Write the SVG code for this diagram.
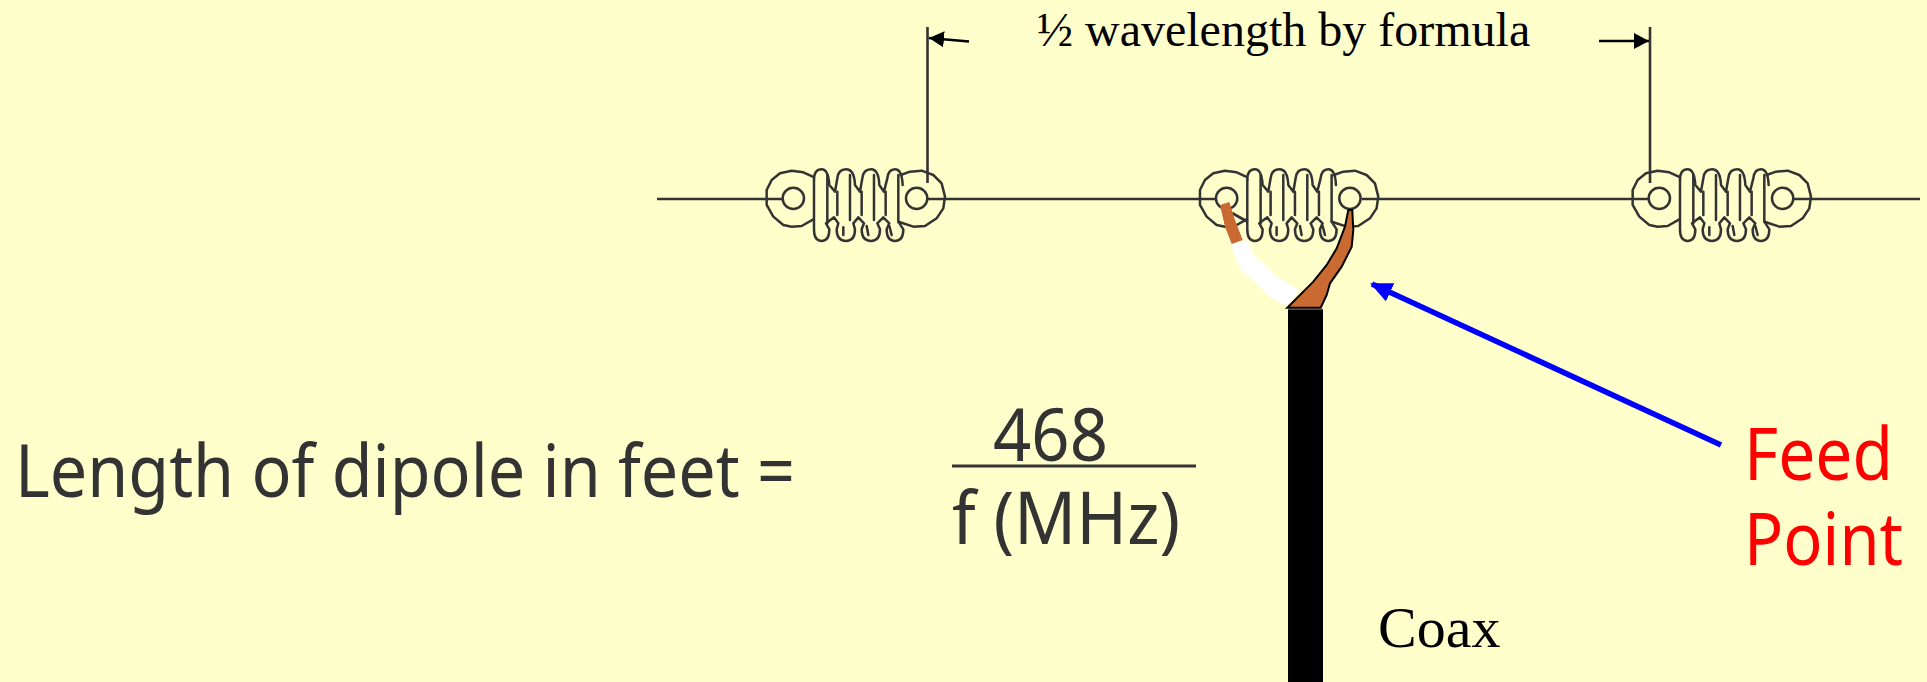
<svg xmlns="http://www.w3.org/2000/svg" xmlns:xlink="http://www.w3.org/1999/xlink" width="1927" height="682" viewBox="0 0 1927 682">
<style>
.ln{fill:none;stroke:#333;stroke-width:2.6}
.ins{fill:none;stroke:#333;stroke-width:7.5;stroke-linejoin:round;stroke-linecap:round}
.sans{font-family:"Noto Sans","DejaVu Sans",sans-serif;font-size:73px;fill:#333}
.red{font-family:"Noto Sans","DejaVu Sans",sans-serif;font-size:73px;fill:#f00}
.serif{font-family:"Liberation Serif",serif;fill:#000}
</style>
<defs>
<g id="insulator" class="ins">
<circle cx="160" cy="175" r="32"/>
<circle cx="530" cy="175" r="32"/>
<path d="M218,110L190,97L155,92L120,100L95,120L80,150L80,195L100,230L130,255L155,260L185,258L220,238"/>
<path d="M482,105L510,95L545,92L580,105L605,130L615,170L610,205L590,235L555,258L520,260L478,246"/>
<path d="M222,120Q222,88 245,88Q265,88 268,135L285,155L292,115Q295,88 318,88Q343,88 345,135L360,155L367,115Q370,88 393,88Q416,88 418,135L432,155L442,115Q445,88 465,88Q486,88 488,135"/>
<path d="M222,120V268Q222,303 245,303Q268,303 268,268L258,250L282,232L295,250L290,268Q290,303 318,303Q345,303 345,268L340,250L355,232L372,250L365,268Q365,303 393,303Q420,303 420,268L412,250L430,232L448,250L440,268Q440,303 465,303Q490,303 490,268L475,245"/>
<path d="M262,105V250M292,155V225M330,105V240M365,155V225M402,105V240M437,155V225M475,105V245"/>
<path d="M310,285V262M385,285L380,258M455,285L448,258"/>
</g>
<marker id="blueHead" markerUnits="userSpaceOnUse" markerWidth="24" markerHeight="20" refX="20" refY="10" orient="auto"><path d="M0,0L22,10L0,20Z" fill="#00f"/></marker>
<marker id="dimHead" markerUnits="userSpaceOnUse" markerWidth="16" markerHeight="16" refX="15" refY="8" orient="auto"><path d="M0,0L15,8L0,16Z" fill="#000"/></marker>
</defs>
<rect width="1927" height="682" fill="#ffc"/>
<g id="connectors">
<path class="ln" d="M657,199H782M928,199H1216M1362,199H1648M1793,199H1920"/>
<path class="ln" d="M927.5,27V183M1650,27V183"/>
<path d="M969,41.5L929,38" fill="none" stroke="#000" stroke-width="2.6" marker-end="url(#dimHead)"/>
<path d="M1599,41H1649" fill="none" stroke="#000" stroke-width="2.6" marker-end="url(#dimHead)"/>
<path d="M1721,445L1372,284" fill="none" stroke="#00f" stroke-width="5.5" marker-end="url(#blueHead)"/>
</g>
<g id="insulator-left"><use xlink:href="#insulator" href="#insulator" transform="translate(740,140) scale(0.3333)"/></g>
<g id="insulator-center"><use xlink:href="#insulator" href="#insulator" transform="translate(1173.3,140) scale(0.3333)"/></g>
<g id="insulator-right"><use xlink:href="#insulator" href="#insulator" transform="translate(1606,140) scale(0.3333)"/></g>
<g id="coax">
<path d="M1232,213L1248,222" fill="none" stroke="#333" stroke-width="2.6"/>
<rect x="1288" y="309" width="35" height="373" fill="#000"/>
<path d="M1288,309H1323" stroke="#999" stroke-width="1"/>
<path fill="#fff" d="M1230.7,244L1247.3,240L1255,256.7L1265,265L1276.7,276.7L1299.3,290L1286.7,306L1270,296.7L1256.7,283.3L1240.7,270L1235,256.7Z"/>
<path fill="#c96a33" d="M1220,205L1229.3,202L1235,220L1242.7,240L1231.7,244L1225,226.7Z"/>
<path fill="#c96a33" stroke="#000" stroke-width="2" d="M1287.3,307.7L1313.3,281.7L1326.7,265L1336.7,248.3L1345,226.7L1348.3,210L1352.3,210L1353.3,230L1351.7,246.7L1341.7,266.7L1330,283.3L1326.7,295L1320.7,307.7Z"/>
</g>
<g id="texts">
<text class="serif" x="1037" y="46" font-size="48">½ wavelength by formula</text>
<text class="sans" x="15" y="497" textLength="780" lengthAdjust="spacingAndGlyphs">Length of dipole in feet =</text>
<text class="sans" x="993" y="461" textLength="115" lengthAdjust="spacingAndGlyphs">468</text>
<text class="sans" x="952" y="544" textLength="228" lengthAdjust="spacingAndGlyphs">f (MHz)</text>
<path d="M952,466H1196" stroke="#333" stroke-width="3"/>
<text class="red" x="1744" y="480" textLength="149" lengthAdjust="spacingAndGlyphs">Feed</text>
<text class="red" x="1744" y="565" textLength="159" lengthAdjust="spacingAndGlyphs">Point</text>
<text class="serif" x="1378" y="647" font-size="58">Coax</text>
</g>
</svg>
